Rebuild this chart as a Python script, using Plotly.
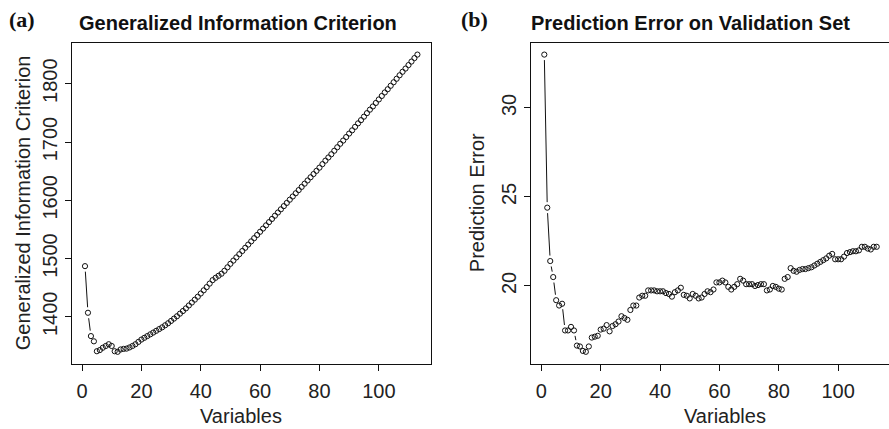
import math
import plotly.graph_objects as go

W, H = 889, 429

# number of variables in the model
variables = list(range(1, 114))

# generalized information criterion for each model size
gic = [
    1487, 1407, 1367, 1358, 1341, 1343, 1347, 1350, 1353, 1350,
    1341, 1340, 1344, 1345, 1345.5, 1347.5, 1350, 1353, 1357, 1361,
    1364, 1367, 1370, 1373, 1376, 1379, 1382, 1385.5, 1389, 1393,
    1397, 1401, 1405.5, 1410, 1414.5, 1419.5, 1424.5, 1429.5, 1434.5, 1440,
    1445.5, 1451, 1457, 1463, 1467, 1470.5, 1474, 1479, 1485, 1491,
    1496.5, 1502, 1507.5, 1513, 1518.5, 1524, 1529.5, 1535, 1540.5, 1546,
    1551.5, 1557, 1562.5, 1568, 1573.5, 1579, 1584.5, 1590, 1595.5, 1601,
    1606.5, 1612, 1617.5, 1623, 1628.5, 1634, 1639.5, 1645, 1650.5, 1656,
    1662, 1668, 1673.5, 1679, 1685, 1691, 1697, 1702.5, 1708.5, 1714.5,
    1720, 1726, 1732, 1737.5, 1743.5, 1749.5, 1755.5, 1761, 1767, 1773,
    1779, 1785, 1790.5, 1796.5, 1802.5, 1808.5, 1814.5, 1820.5, 1826, 1832,
    1838, 1844, 1850,
]

# prediction error on the validation set for each model size
pred_err = [
    33.0, 24.4, 21.4, 20.5, 19.2, 18.9, 19.0, 17.5, 17.5, 17.7,
    17.5, 16.65, 16.6, 16.35, 16.3, 16.6, 17.1, 17.15, 17.2, 17.55,
    17.6, 17.8, 17.45, 17.75, 17.85, 18.0, 18.3, 18.2, 18.1, 18.65,
    18.9, 18.9, 19.35, 19.45, 19.45, 19.75, 19.75, 19.75, 19.7, 19.7,
    19.7, 19.6, 19.55, 19.4, 19.65, 19.75, 19.9, 19.5, 19.45, 19.3,
    19.55, 19.45, 19.3, 19.35, 19.55, 19.7, 19.65, 19.8, 20.2, 20.2,
    20.3, 20.2, 19.95, 19.8, 19.95, 20.1, 20.4, 20.3, 20.1, 20.1,
    20.1, 20.0, 20.05, 20.1, 20.1, 19.75, 19.8, 20.0, 19.95, 19.85,
    19.8, 20.4, 20.5, 21.0, 20.85, 20.8, 20.9, 20.95, 20.95, 21.0,
    21.05, 21.15, 21.25, 21.35, 21.45, 21.55, 21.7, 21.8, 21.5, 21.5,
    21.5, 21.65, 21.85, 21.9, 21.95, 21.95, 22.0, 22.2, 22.2, 22.1,
    22.05, 22.2, 22.2,
]

x_ticks = [0, 20, 40, 60, 80, 100]
gic_ticks = [1400, 1500, 1600, 1700, 1800]
err_ticks = [20, 25, 30]

# plot boxes (pixels)
L0, L1 = 71.7, 430.7
R0, R1 = 531.0, 889.0
TOP, BOT = 42.7, 363.7

INK = "#111111"
SANS = "Liberation Sans, Arial, sans-serif"
SERIF = "Liberation Serif, Times New Roman, serif"


def padded_range(v):
    lo, hi = min(v), max(v)
    pad = 0.04 * (hi - lo)
    return [lo - pad, hi + pad]


xr = padded_range(variables)
px_x = (L1 - L0) / (xr[1] - xr[0])
xr2 = [xr[0], xr[0] + (R1 - R0) / px_x]
yr1 = padded_range(gic)
yr2 = padded_range(pred_err)
px_y1 = (BOT - TOP) / (yr1[1] - yr1[0])
px_y2 = (BOT - TOP) / (yr2[1] - yr2[0])

GAP = 5.5  # pixel gap between a connecting line and the points


def gapped_segments(xs, ys, sx, sy, gap):
    lx, ly = [], []
    for x0, y0, x1, y1 in zip(xs[:-1], ys[:-1], xs[1:], ys[1:]):
        d = math.hypot((x1 - x0) * sx, (y1 - y0) * sy)
        if d <= 2 * gap:
            continue
        f = gap / d
        lx += [x0 + (x1 - x0) * f, x1 - (x1 - x0) * f, None]
        ly += [y0 + (y1 - y0) * f, y1 - (y1 - y0) * f, None]
    return lx, ly


fig = go.Figure()

marker = dict(symbol="circle-open", size=5.2, color=INK, line=dict(width=1, color=INK))

for xs, ys, sy, xa, ya in [
    (variables, gic, px_y1, "x", "y"),
    (variables, pred_err, px_y2, "x2", "y2"),
]:
    lx, ly = gapped_segments(xs, ys, px_x, sy, GAP)
    fig.add_trace(go.Scatter(x=lx, y=ly, mode="lines", line=dict(color=INK, width=1),
                             xaxis=xa, yaxis=ya, showlegend=False, hoverinfo="skip"))
    fig.add_trace(go.Scatter(x=xs, y=ys, mode="markers", marker=marker,
                             xaxis=xa, yaxis=ya, showlegend=False))

tick_font = dict(family=SANS, size=20, color="#222222")
common_axis = dict(showgrid=False, zeroline=False, showline=True, linecolor=INK,
                   linewidth=1, ticks="outside", ticklen=6, tickwidth=1,
                   tickcolor=INK, tickfont=tick_font, automargin=False)

py = lambda p: 1 - p / H
px = lambda p: p / W

fig.update_layout(
    width=W, height=H,
    margin=dict(l=0, r=0, t=0, b=0),
    paper_bgcolor="white", plot_bgcolor="white",
    xaxis=dict(domain=[px(L0), px(L1)], range=xr, tickvals=x_ticks, mirror=True,
               anchor="y", ticklabelstandoff=3, **common_axis),
    yaxis=dict(domain=[py(BOT), py(TOP)], range=yr1, tickvals=gic_ticks, mirror=True,
               anchor="x", tickangle=-90, ticklabelstandoff=0, **common_axis),
    xaxis2=dict(domain=[px(R0), 1.0], range=xr2, tickvals=x_ticks, mirror=True,
                anchor="y2", ticklabelstandoff=3, **common_axis),
    yaxis2=dict(domain=[py(BOT), py(TOP)], range=yr2, tickvals=err_ticks, mirror=False,
                anchor="x2", tickangle=-90, ticklabelstandoff=0, **common_axis),
)


def label(text, x, y, font, angle=0):
    fig.add_annotation(text=text, x=px(x), y=py(y), xref="paper", yref="paper",
                       xanchor="center", yanchor="middle", showarrow=False,
                       textangle=angle, font=font)


lab_font = dict(family=SANS, size=20, color="#222222")
title_font = dict(family=SANS, size=20, color="#111111", weight="bold")
panel_font = dict(family=SERIF, size=22, color="#111111", weight="bold")

label("(a)", 22, 20, panel_font)
label("(b)", 474, 20, panel_font)
label("Generalized Information Criterion", 238, 22.5, title_font)
label("Prediction Error on Validation Set", 690, 22.5, title_font)
label("Variables", 241, 415.5, lab_font)
label("Variables", 725, 415.5, lab_font)
label("Generalized Information Criterion", 23, (TOP + BOT) / 2, lab_font, -90)
label("Prediction Error", 477, (TOP + BOT) / 2, lab_font, -90)

fig.write_html("out.html")
